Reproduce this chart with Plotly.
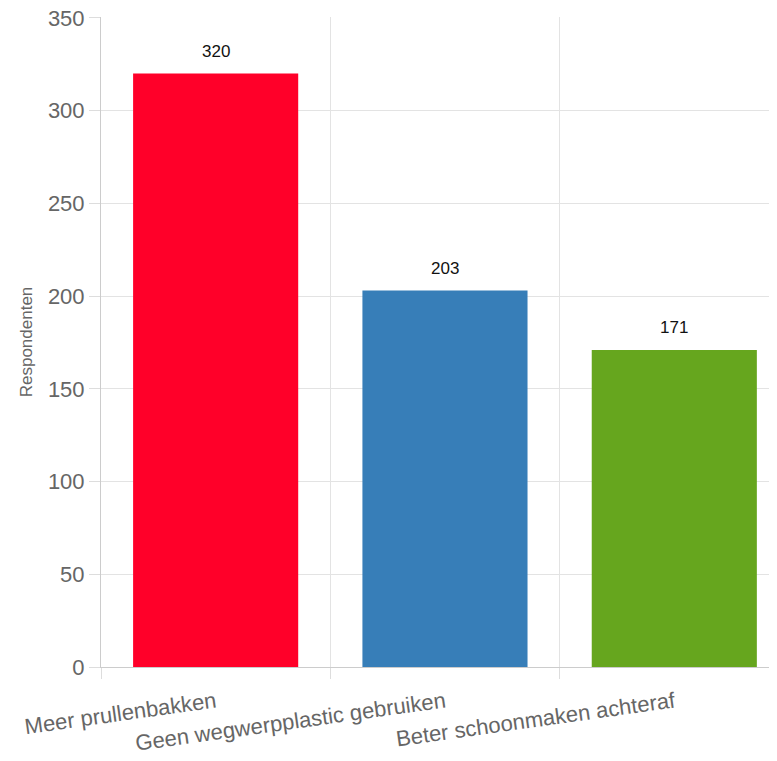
import plotly.graph_objects as go

categories = ["Meer prullenbakken", "Geen wegwerpplastic gebruiken", "Beter schoonmaken achteraf"]
values = [320, 203, 171]
colors = ["#FF0029", "#377EB8", "#66A61E"]
y_title = "Respondenten"

FONT = "Liberation Sans, Arial, Helvetica, sans-serif"

fig = go.Figure()
fig.add_trace(go.Bar(
    x=categories, y=values, marker=dict(color=colors, line=dict(width=0)),
    width=0.72, hoverinfo="x+y",
))

for c, v in zip(categories, values):
    fig.add_annotation(x=c, y=v, text=str(v), showarrow=False, yanchor="bottom",
                       yshift=11, font=dict(family=FONT, size=17, color="#111"))

fig.update_layout(
    width=761, height=745,
    margin=dict(l=93, r=0, t=9, b=86),
    plot_bgcolor="white", paper_bgcolor="white",
    showlegend=False,
    font=dict(family=FONT, color="#666"),
)
fig.update_xaxes(
    type="category", range=[-0.5, 2.413], tickson="boundaries",
    automargin=False,
    showgrid=True, gridcolor="#e3e3e3", gridwidth=1,
    ticks="outside", ticklen=11, tickcolor="#dddddd",
    showline=True, linecolor="#cccccc", linewidth=1,
    tickangle=-8, ticklabelstandoff=13, ticklabeloverflow="allow",
    tickfont=dict(family=FONT, size=22, color="#666"),
)
fig.update_yaxes(
    range=[0, 350.5], tickvals=[0, 50, 100, 150, 200, 250, 300, 350],
    automargin=False, ticklabeloverflow="allow",
    showgrid=True, gridcolor="#e3e3e3", gridwidth=1,
    zeroline=False,
    ticks="outside", ticklen=11, tickcolor="#dddddd",
    showline=True, linecolor="#cccccc", linewidth=1,
    tickfont=dict(family=FONT, size=22, color="#666"),
    title=dict(text=y_title, font=dict(family=FONT, size=17, color="#666"), standoff=10),
)

fig.write_html("out.html")
